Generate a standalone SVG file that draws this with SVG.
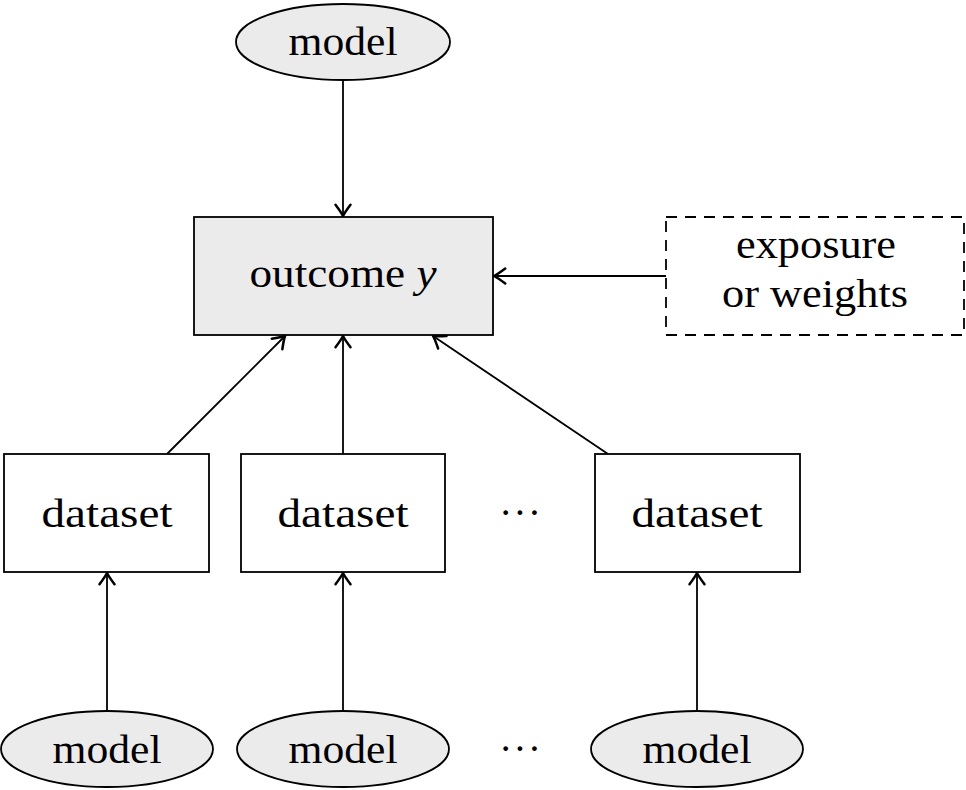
<svg xmlns="http://www.w3.org/2000/svg" width="966" height="790" viewBox="0 0 966 790">
<defs>
<style>
.n{fill:#ebebeb;stroke:#000;stroke-width:1.8}
.w{fill:#fff;stroke:#000;stroke-width:1.8}
.d{fill:#fff;stroke:#000;stroke-width:1.8;stroke-dasharray:11,8}
.t{font-family:"Liberation Serif","DejaVu Serif",serif;font-size:40px;text-anchor:middle;fill:#000}
.e{stroke:#000;stroke-width:1.8;fill:none;marker-end:url(#ah)}
.dots{font-family:"Liberation Serif","DejaVu Serif",serif;font-size:40px;text-anchor:middle;fill:#000}
</style>
<marker id="ah" markerUnits="userSpaceOnUse" markerWidth="20" markerHeight="20" refX="0" refY="0" viewBox="-12 -8 14 16" orient="auto" overflow="visible">
<path d="M-9,-6 Q-3,-1.5 0,0 Q-3,1.5 -9,6" fill="none" stroke="#000" stroke-width="2" stroke-linecap="round" stroke-linejoin="round"/>
</marker>
</defs>
<g id="connectors">
<line class="e" x1="343" y1="80" x2="343" y2="216"/>
<line class="e" x1="666" y1="276" x2="494" y2="276"/>
<line class="e" x1="167" y1="454" x2="285" y2="336"/>
<line class="e" x1="343" y1="454" x2="343" y2="336"/>
<line class="e" x1="608" y1="454" x2="433" y2="336"/>
<line class="e" x1="107" y1="711" x2="107" y2="573"/>
<line class="e" x1="343" y1="711" x2="343" y2="573"/>
<line class="e" x1="697" y1="711" x2="697" y2="573"/>
</g>
<g id="model-top">
<ellipse class="n" cx="343" cy="42" rx="107" ry="38"/>
<text class="t" x="343" y="55" textLength="109" lengthAdjust="spacingAndGlyphs">model</text>
</g>
<g id="outcome">
<rect class="n" x="194" y="217" width="299" height="118"/>
<text class="t" x="343" y="287" textLength="187" lengthAdjust="spacingAndGlyphs">outcome <tspan font-style="italic">y</tspan></text>
</g>
<g id="exposure">
<rect class="d" x="666" y="217" width="298" height="118"/>
<text class="t" x="816" y="258" textLength="160" lengthAdjust="spacingAndGlyphs">exposure</text>
<text class="t" x="815" y="307" textLength="186" lengthAdjust="spacingAndGlyphs">or weights</text>
</g>
<g id="dataset1">
<rect class="w" x="4" y="454" width="205" height="118"/>
<text class="t" x="107" y="527" textLength="131" lengthAdjust="spacingAndGlyphs">dataset</text>
</g>
<g id="dataset2">
<rect class="w" x="241" y="454" width="204" height="118"/>
<text class="t" x="343" y="527" textLength="131" lengthAdjust="spacingAndGlyphs">dataset</text>
</g>
<g id="dots-mid">
<text class="dots" x="520" y="526" textLength="42" lengthAdjust="spacing">···</text>
</g>
<g id="dataset3">
<rect class="w" x="595" y="454" width="205" height="118"/>
<text class="t" x="697" y="527" textLength="131" lengthAdjust="spacingAndGlyphs">dataset</text>
</g>
<g id="model1">
<ellipse class="n" cx="107" cy="749" rx="106" ry="38"/>
<text class="t" x="107" y="763" textLength="109" lengthAdjust="spacingAndGlyphs">model</text>
</g>
<g id="model2">
<ellipse class="n" cx="343" cy="749" rx="106" ry="38"/>
<text class="t" x="343" y="763" textLength="109" lengthAdjust="spacingAndGlyphs">model</text>
</g>
<g id="dots-bottom">
<text class="dots" x="520" y="762" textLength="42" lengthAdjust="spacing">···</text>
</g>
<g id="model3">
<ellipse class="n" cx="697" cy="749" rx="106" ry="38"/>
<text class="t" x="697" y="763" textLength="109" lengthAdjust="spacingAndGlyphs">model</text>
</g>
</svg>
